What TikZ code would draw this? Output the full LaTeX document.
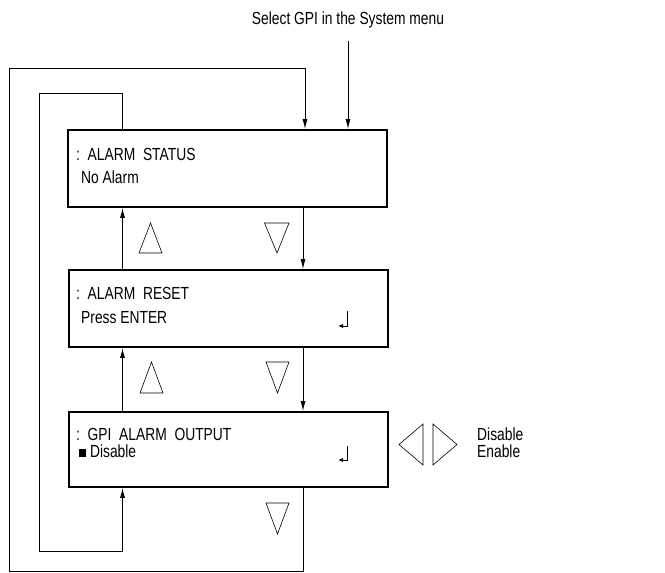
\documentclass[tikz,border=0pt]{standalone}
\usepackage{fontspec}
\setmainfont{Liberation Sans}[FakeStretch=0.79]
\usetikzlibrary{arrows.meta,positioning}

\tikzset{
  menubox/.style={draw,line width=1.8pt,minimum width=319pt,minimum height=77pt,inner sep=0pt},
  flow/.style={line width=0.9pt},
  flowarr/.style={flow,-{Latex[length=10pt,width=5pt]}},
  keytri/.style={line width=0.6pt},
  lcdtext/.style={anchor=base west,inner sep=0pt,font=\fontsize{17.5}{21}\selectfont},
  entersym/.style={line width=0.8pt,-{Latex[length=5pt,width=4pt]}},
}

\begin{document}
\begin{tikzpicture}[x=1pt,y=-1pt]
    \useasboundingbox (0,0) rectangle (665,573);
    % menu boxes
    \node[menubox] (status) at (227.5,168.5) {};
    \node[menubox] (reset)  at (228.5,308.5) {};
    \node[menubox,minimum height=75pt] (output) at (228.5,449.5) {};

    \node[lcdtext] (statusA) at (76,160) {:\ \ ALARM\ \ STATUS};
    \node[lcdtext] (statusB) at (81,183) {No Alarm};
    \node[lcdtext] (resetA)  at (76,299) {:\ \ ALARM\ \ RESET};
    \node[lcdtext] (resetB)  at (81,323) {Press ENTER};
    \node[lcdtext] (outputA) at (76,440) {:\ \ GPI\ \ ALARM\ \ OUTPUT};
    \node[lcdtext] (outputB) at (79,457) {\rule{7pt}{8pt}\ Disable};
    \node[lcdtext] (optA) at (477,440) {Disable};
    \node[lcdtext] (optB) at (477,457) {Enable};
    \node[font=\fontsize{17.5}{21}\selectfont,anchor=base] (select) at (348,24)
      {Select GPI in the System menu};

    % enter keys
    \draw[entersym] (347,311) -- (347,326) -- (338,326);
    \draw[entersym] (347,446) -- (347,460) -- (338,460);

    % key triangles
    \draw[keytri] (150.5,223) -- (162,253) -- (139,253) -- cycle;
    \draw[keytri] (264.5,223) -- (289,223) -- (277,253) -- cycle;
    \draw[keytri] (151.5,362) -- (163,393) -- (140,393) -- cycle;
    \draw[keytri] (266,362) -- (289,362) -- (277.5,393) -- cycle;
    \draw[keytri] (266,503) -- (289,503) -- (277.5,534) -- cycle;
    \draw[keytri] (399,444.5) -- (423,424) -- (423,465) -- cycle;
    \draw[keytri] (457,444.5) -- (433,424) -- (433,465) -- cycle;

    % connectors
    \coordinate (upx) at (122.5,0);
    \coordinate (dnx) at (303,0);
    \coordinate (selsrc) at (348,41);
    \draw[flowarr] (selsrc) -- (selsrc |- status.north);
    \draw[flowarr] (status.south -| dnx) -- (reset.north -| dnx);
    \draw[flowarr] (reset.south -| dnx) -- (output.north -| dnx);
    \draw[flowarr] (reset.north -| upx) -- (status.south -| upx);
    \draw[flowarr] (output.north -| upx) -- (reset.south -| upx);
    % outer loop
    \coordinate (outA) at (303,571.5);
    \coordinate (outB) at (9,571.5);
    \coordinate (outC) at (9,68);
    \coordinate (outD) at (305,68);
    \draw[flowarr] (output.south -| dnx) -- (outA) -- (outB) -- (outC) -- (outD)
      -- (outD |- status.north);
    % inner loop
    \coordinate (inA) at (122.5,93);
    \coordinate (inB) at (39,93);
    \coordinate (inC) at (39,551);
    \coordinate (inD) at (122.5,551);
    \draw[flowarr] (status.north -| upx) -- (inA) -- (inB) -- (inC) -- (inD)
      -- (output.south -| upx);
\end{tikzpicture}
\end{document}
